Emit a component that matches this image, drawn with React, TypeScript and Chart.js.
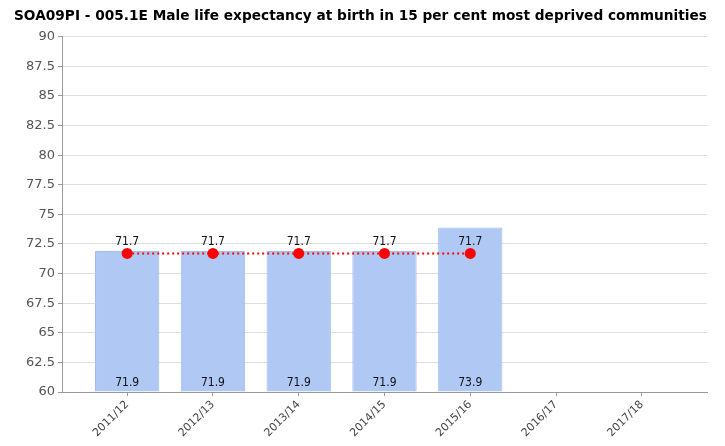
import React, { useEffect, useRef } from "react";
import { Chart, registerables } from "chart.js";

Chart.register(...registerables);

const TITLE = "SOA09PI - 005.1E Male life expectancy at birth in 15 per cent most deprived communities";
const categories = ["2011/12", "2012/13", "2013/14", "2014/15", "2015/16", "2016/17", "2017/18"];
const barValues = [71.9, 71.9, 71.9, 71.9, 73.9, null, null];
const lineValues = [71.7, 71.7, 71.7, 71.7, 71.7, null, null];
const yMin = 60;
const yMax = 90;
const yStep = 2.5;

const valueLabels = {
  id: "valueLabels",
  afterDatasetsDraw(chart: any) {
    const ctx = chart.ctx;
    const bottom = chart.scales.y.getPixelForValue(yMin);
    ctx.save();
    ctx.fillStyle = "#111";
    ctx.textAlign = "center";
    ctx.textBaseline = "middle";
    ctx.font = '12px "Liberation Sans Narrow", "DejaVu Sans Condensed", sans-serif';
    const barMeta = chart.getDatasetMeta(0);
    barMeta.data.forEach((el: any, i: number) => {
      const v = barValues[i];
      if (v == null) return;
      ctx.fillText(v.toFixed(1), el.x, bottom - 9);
    });
    const lineMeta = chart.getDatasetMeta(1);
    lineMeta.data.forEach((el: any, i: number) => {
      const v = lineValues[i];
      if (v == null) return;
      ctx.fillText(v.toFixed(1), el.x, el.y - 12);
    });
    ctx.restore();
  },
};

export default function App() {
  const ref = useRef<HTMLCanvasElement | null>(null);
  useEffect(() => {
    if (!ref.current) return;
    const chart = new Chart(ref.current, {
      type: "bar",
      data: {
        datasets: [
          {
            type: "bar",
            data: barValues.map((v, i) => ({ x: i, y: v })) as any,
            backgroundColor: "#b0c8f4",
            borderColor: "#a2bcef",
            borderWidth: 1,
            categoryPercentage: 1,
            barPercentage: 0.75,
            base: yMin,
            order: 2,
          },
          {
            type: "line",
            data: lineValues.map((v, i) => ({ x: i, y: v })) as any,
            borderColor: "#ff0000",
            borderWidth: 2,
            borderDash: [2, 3],
            pointRadius: 5.5,
            pointBackgroundColor: "#ff0000",
            pointBorderColor: "#ff0000",
            pointBorderWidth: 0,
            spanGaps: false,
            order: 1,
          },
        ],
      } as any,
      options: {
        animation: false,
        responsive: false,
        layout: { padding: { left: 14, right: 18, top: 0, bottom: 0 } },
        plugins: {
          legend: { display: false },
          tooltip: { enabled: false },
          title: {
            display: true,
            text: TITLE,
            align: "start",
            color: "#000",
            font: { family: '"DejaVu Sans"', size: 14, weight: "bold", lineHeight: 1.2 },
            padding: { top: 8, bottom: 12 },
          },
        },
        scales: {
          x: {
            type: "linear",
            min: -0.76,
            max: 6.76,
            offset: false,
            afterBuildTicks: (scale: any) => {
              scale.ticks = categories.map((_, i) => ({ value: i }));
            },
            afterFit: (scale: any) => {
              scale.height = 54;
            },
            ticks: {
              autoSkip: false,
              minRotation: 45,
              maxRotation: 45,
              color: "#444",
              font: { family: '"DejaVu Sans"', size: 11 },
              padding: 2,
              callback: (v: any) => categories[v] ?? "",
            },
            grid: {
              offset: false,
              drawOnChartArea: false,
              drawTicks: true,
              tickLength: 4,
              tickColor: "#999",
            },
            border: { color: "#999", width: 1 },
          },
          y: {
            min: yMin,
            max: yMax,
            afterFit: (scale: any) => {
              scale.width = 48;
            },
            ticks: {
              stepSize: yStep,
              color: "#555",
              font: { family: '"DejaVu Sans"', size: 13 },
              padding: 3,
            },
            grid: {
              color: "#dddddd",
              tickColor: "#999",
              tickLength: 4,
            },
            border: { color: "#999", width: 1 },
          },
        },
      } as any,
      plugins: [valueLabels],
    });
    return () => chart.destroy();
  }, []);

  return (
    <div style={{ position: "relative", width: 725, height: 446, margin: -8, background: "#fff", overflow: "hidden" }}>
      <div style={{ position: "absolute", left: 0, top: 1, width: 721, height: 2, background: "#00007f" }} />
      <div style={{ position: "absolute", left: 6, top: 8, width: 2, height: 438, background: "#d0d0d0" }} />
      <canvas ref={ref} width={725} height={446} style={{ position: "absolute", left: 0, top: 0, width: 725, height: 446 }} />
    </div>
  );
}
